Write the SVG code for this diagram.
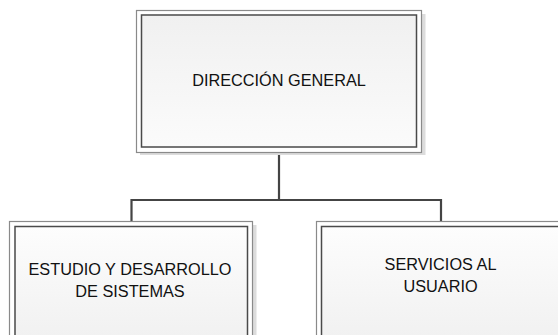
<svg xmlns="http://www.w3.org/2000/svg" width="558" height="335" viewBox="0 0 558 335">
<defs>
<linearGradient id="fill" x1="0" y1="0" x2="0" y2="1">
<stop offset="0" stop-color="#f0f0f0"/>
<stop offset="1" stop-color="#fbfbfb"/>
</linearGradient>
<linearGradient id="fill2" x1="0" y1="0" x2="0" y2="1">
<stop offset="0" stop-color="#fdfdfd"/>
<stop offset="1" stop-color="#f0f0f0"/>
</linearGradient>
</defs>
<style>
.shadow{fill:#dcdcdc;stroke:none}
.outer{fill:#ffffff;stroke:#8a8a8a;stroke-width:1.2}
.inner{stroke:#4a4a4a;stroke-width:1.5}
.lbl{font-family:"Liberation Sans","Open Sans",Arial,sans-serif;font-size:16.3px;fill:#111;text-anchor:middle}
.conn{fill:none;stroke:#444;stroke-width:2.2}
</style>
<rect width="558" height="335" fill="#ffffff"/>
<g id="connectors">
<path class="conn" d="M279,152.5 V200 M131.5,222 V200 H441 V222"/>
</g>
<g id="node-direccion">
<rect class="shadow" x="140" y="14" width="285.5" height="141"/>
<rect class="outer" x="136.5" y="10.5" width="285" height="142"/>
<rect class="inner" x="141.5" y="15" width="275" height="132" fill="url(#fill)"/>
<text class="lbl" x="279" y="86">DIRECCIÓN GENERAL</text>
</g>
<g id="node-estudio">
<rect class="shadow" x="13" y="225" width="243.5" height="120"/>
<rect class="outer" x="9.5" y="221.5" width="243" height="120"/>
<rect class="inner" x="15" y="226.5" width="232.5" height="120" fill="url(#fill2)"/>
<text class="lbl" x="130" y="275">ESTUDIO Y DESARROLLO</text>
<text class="lbl" x="130" y="297">DE SISTEMAS</text>
</g>
<g id="node-servicios">
<rect class="shadow" x="320" y="225" width="250" height="120"/>
<rect class="outer" x="316.5" y="221.5" width="249" height="120"/>
<rect class="inner" x="321.5" y="226.5" width="239" height="120" fill="url(#fill2)"/>
<text class="lbl" x="440.5" y="270">SERVICIOS AL</text>
<text class="lbl" x="440.5" y="292">USUARIO</text>
</g>
</svg>
